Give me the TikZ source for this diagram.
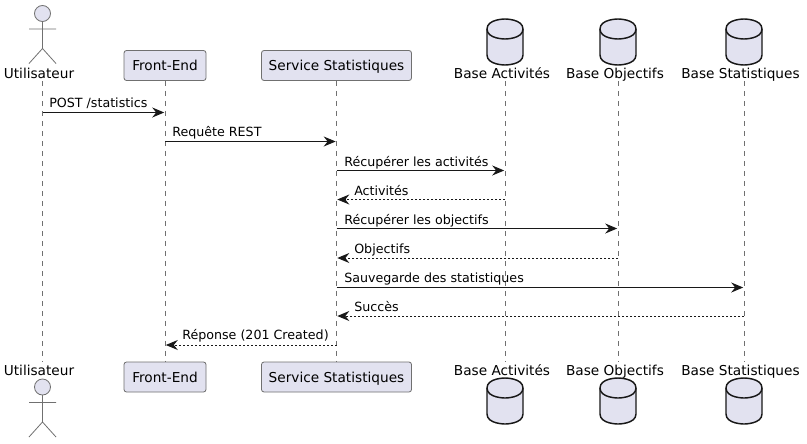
\documentclass[tikz,border=0pt]{standalone}
\usepackage{fontspec}
\setmainfont{DejaVu Sans}
\usetikzlibrary{arrows.meta,calc}
\definecolor{pfill}{HTML}{E2E2F0}
\definecolor{pline}{HTML}{181818}
\definecolor{thinline}{HTML}{707070}
\tikzset{
  x=0.75pt,y=-0.75pt,
  pbox/.style={draw=thinline,line width=0.6pt,fill=pfill,rounded corners=1.9pt,minimum height=22.5pt,inner sep=0pt,anchor=center,text height=7.6pt,text depth=0pt,font=\fontsize{10.25pt}{12pt}\selectfont,text=black},
  plabel/.style={inner sep=0pt,font=\fontsize{10.25pt}{12pt}\selectfont,text=black,anchor=base},
  mlabel/.style={inner sep=0pt,font=\fontsize{9.5pt}{11pt}\selectfont,text=black,anchor=base west},
  lifeline/.style={draw=thinline,line width=0.5pt,dash pattern=on 3.75pt off 3.75pt},
  msg/.style={draw=pline,line width=0.75pt,-{Stealth[length=9pt,width=7.5pt,inset=3pt]},shorten >=0.6pt},
  rep/.style={msg,dash pattern=on 1.5pt off 1.5pt},
  actorline/.style={draw=thinline,line width=0.6pt},
  dbline/.style={draw=pline,line width=1.1pt,fill=pfill},
  dbcap/.style={draw=pline,line width=1.1pt},
}
\newcommand{\dbshape}[2]{%
  \path[dbline] (#1-18,#2+10) .. controls (#1-18,#2) and (#1,#2) .. (#1,#2)
    .. controls (#1,#2) and (#1+18,#2) .. (#1+18,#2+10)
    -- (#1+18,#2+36) .. controls (#1+18,#2+46) and (#1,#2+46) .. (#1,#2+46)
    .. controls (#1,#2+46) and (#1-18,#2+46) .. (#1-18,#2+36) -- cycle;
  \path[dbcap] (#1-18,#2+10) .. controls (#1-18,#2+20) and (#1,#2+20) .. (#1,#2+20)
    .. controls (#1,#2+20) and (#1+18,#2+20) .. (#1+18,#2+10);
}
\newcommand{\actorshape}[2]{%
  \path[actorline,fill=pfill] (#1,#2) circle[radius=8];
  \path[actorline] (#1,#2+8) -- (#1,#2+35)
    (#1-13.5,#2+15.5) -- (#1+13.5,#2+15.5)
    (#1-13.5,#2+50) -- (#1,#2+35) -- (#1+13.5,#2+50);
}
\begin{document}
\begin{tikzpicture}
\useasboundingbox (0,0) rectangle (807,443);
\fill[white] (0,0) rectangle (807,443);
% lifeline anchors
\coordinate (ut) at (42.5,81);
\coordinate (ub) at (42.5,362);
\coordinate (at) at (505,81);
\coordinate (ab) at (505,362);
\coordinate (ot) at (618,81);
\coordinate (ob) at (618,362);
\coordinate (st) at (744,81);
\coordinate (sb) at (744,362);
% participants
\node[pbox,minimum width=61.5pt] (fe) at (165,65.5) {Front-End};
\node[pbox,minimum width=112.5pt] (ss) at (336.5,65.5) {Service Statistiques};
\node[pbox,minimum width=61.5pt] (fe2) at (165,377) {Front-End};
\node[pbox,minimum width=112.5pt] (ss2) at (336.5,377) {Service Statistiques};
% lifelines
\draw[lifeline] (ut) -- (ub);
\draw[lifeline] (fe.south) -- (fe2.north);
\draw[lifeline] (ss.south) -- (ss2.north);
\draw[lifeline] (at) -- (ab);
\draw[lifeline] (ot) -- (ob);
\draw[lifeline] (st) -- (sb);
% actors
\actorshape{42.5}{13.5}
\actorshape{42.5}{387}
\node[plabel] (u1) at (39,78) {Utilisateur};
\node[plabel] (u2) at (39,375) {Utilisateur};
% databases
\dbshape{505}{19}
\dbshape{618}{19}
\dbshape{744}{19}
\dbshape{505}{378}
\dbshape{618}{378}
\dbshape{744}{378}
\node[plabel] (a1) at (502,78) {Base Activités};
\node[plabel] (o1) at (615,78) {Base Objectifs};
\node[plabel] (s1) at (740.5,78) {Base Statistiques};
\node[plabel] (a2) at (502,375) {Base Activités};
\node[plabel] (o2) at (615,375) {Base Objectifs};
\node[plabel] (s2) at (740.5,375) {Base Statistiques};
% messages
\foreach \n/\yy in {1/112.5,2/141.5,3/170.5,4/199.5,5/228.5,6/258,7/287.5,8/316,9/345}
  \coordinate (y\n) at (0,\yy);
\draw[msg] (ut |- y1) -- (fe |- y1);
\node[mlabel] at (49,107) {POST /statistics};
\draw[msg] (fe |- y2) -- (ss |- y2);
\node[mlabel] at (172,136) {Requête REST};
\draw[msg] (ss |- y3) -- (at |- y3);
\node[mlabel] at (344,166) {Récupérer les activités};
\draw[rep] (at |- y4) -- (ss |- y4);
\node[mlabel] at (354,195) {Activités};
\draw[msg] (ss |- y5) -- (ot |- y5);
\node[mlabel] at (344,224) {Récupérer les objectifs};
\draw[rep] (ot |- y6) -- (ss |- y6);
\node[mlabel] at (354,253) {Objectifs};
\draw[msg] (ss |- y7) -- (st |- y7);
\node[mlabel] at (344,282) {Sauvegarde des statistiques};
\draw[rep] (st |- y8) -- (ss |- y8);
\node[mlabel] at (354,311) {Succès};
\draw[rep] (ss |- y9) -- (fe |- y9);
\node[mlabel] at (182,339) {Réponse (201 Created)};
\end{tikzpicture}
\end{document}
